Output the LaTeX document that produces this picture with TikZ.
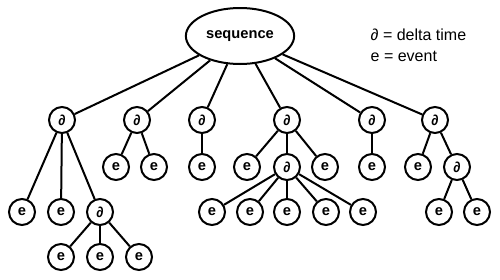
\documentclass[tikz,border=0pt]{standalone}
\usepackage{fontspec}
\setmainfont{Liberation Sans}
\usetikzlibrary{shapes.geometric}

\begin{document}
\begin{tikzpicture}[x=0.75pt,y=-0.75pt,
  ev/.style={circle,draw,line width=1.5pt,minimum size=19.5pt,inner sep=0pt,font=\bfseries\fontsize{11}{12}\selectfont},
  link/.style={line width=1.5pt}]
  \useasboundingbox (0,0) rectangle (500,279);
  \node[ellipse,draw,line width=1.5pt,minimum width=78pt,minimum height=42pt,
        font=\bfseries\fontsize{11}{13}\selectfont] (seq) at (240,36) {sequence};
  \node[anchor=west,font=\fontsize{12}{14}\selectfont] (keyd) at (366,35) {∂ = delta time};
  \node[anchor=west,font=\fontsize{12}{14}\selectfont] (keye) at (366,56) {e = event};
  % delta times under the sequence
  \foreach \x [count=\i] in {62,137,202,287,372,435}{
    \node[ev] (d\i) at (\x,120) {∂};
    \draw[link] (seq) -- (d\i);
  }
  % first branch
  \node[ev] (e11) at (22,212) {e};
  \node[ev] (e12) at (61,212) {e};
  \node[ev] (d11) at (100,212) {∂};
  \foreach \n in {e11,e12,d11} \draw[link] (d1) -- (\n);
  \foreach \x [count=\i] in {61,100,139}{
    \node[ev] (f\i) at (\x,257) {e};
    \draw[link] (d11) -- (f\i);
  }
  % second and third branch
  \node[ev] (e21) at (116,167) {e};
  \node[ev] (e22) at (154,167) {e};
  \node[ev] (e31) at (202,167) {e};
  \draw[link] (d2) -- (e21);
  \draw[link] (d2) -- (e22);
  \draw[link] (d3) -- (e31);
  % fourth branch
  \node[ev] (e41) at (247,167) {e};
  \node[ev] (d41) at (287,167) {∂};
  \node[ev] (e42) at (325,167) {e};
  \foreach \n in {e41,d41,e42} \draw[link] (d4) -- (\n);
  \foreach \x [count=\i] in {212,250,287,326,363}{
    \node[ev] (g\i) at (\x,212) {e};
    \draw[link] (d41) -- (g\i);
  }
  % fifth and sixth branch
  \node[ev] (e51) at (372,167) {e};
  \draw[link] (d5) -- (e51);
  \node[ev] (e61) at (418,167) {e};
  \node[ev] (d61) at (457,167) {∂};
  \draw[link] (d6) -- (e61);
  \draw[link] (d6) -- (d61);
  \foreach \x [count=\i] in {439,477}{
    \node[ev] (h\i) at (\x,212) {e};
    \draw[link] (d61) -- (h\i);
  }
\end{tikzpicture}
\end{document}
